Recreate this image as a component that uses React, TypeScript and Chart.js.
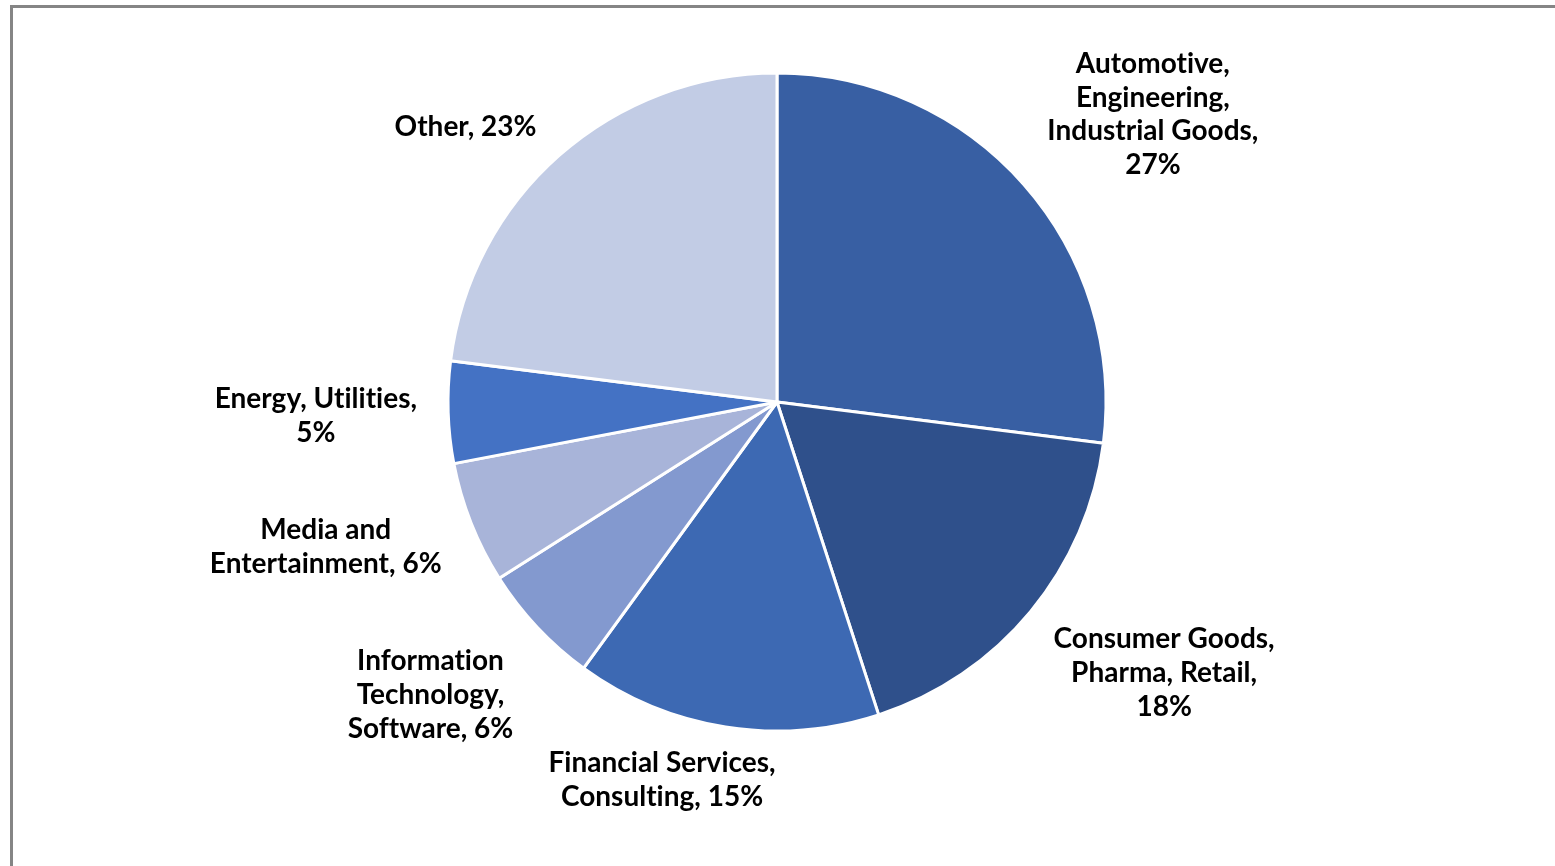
import React, { useEffect, useRef } from "react";
import { Chart, registerables } from "chart.js";

Chart.register(...registerables);

const categories: string[][] = [
  ["Automotive,", "Engineering,", "Industrial Goods,", "27%"],
  ["Consumer Goods,", "Pharma, Retail,", "18%"],
  ["Financial Services,", "Consulting, 15%"],
  ["Information", "Technology,", "Software, 6%"],
  ["Media and", "Entertainment, 6%"],
  ["Energy, Utilities,", "5%"],
  ["Other, 23%"],
];
const shares: number[] = [27, 18, 15, 6, 6, 5, 23];
const sliceColors: string[] = ["#385FA3", "#2F508B", "#3D69B3", "#8399CF", "#A8B4D9", "#4472C4", "#C2CCE5"];
// label placement: distance factor (x radius) and angle delta (deg) from slice middle
const labelDist: number[] = [1.442, 1.433, 1.195, 1.375, 1.439, 1.402, 1.268];
const labelDelta: number[] = [3.8, -4.8, 8, 3.2, 4, 0.3, -6.9];

const labelPlugin = {
  id: "sliceLabels",
  afterDatasetsDraw(chart: any) {
    const ctx = chart.ctx;
    const meta = chart.getDatasetMeta(0);
    ctx.save();
    ctx.font = "bold 28px Lato";
    try {
      (ctx as any).letterSpacing = "0.01px";
    } catch (e) {}
    ctx.fillStyle = "#000";
    ctx.textAlign = "center";
    ctx.textBaseline = "middle";
    meta.data.forEach((arc: any, i: number) => {
      const { x, y, startAngle, endAngle, outerRadius } = arc.getProps(["x", "y", "startAngle", "endAngle", "outerRadius"], true);
      const mid = (startAngle + endAngle) / 2 + (labelDelta[i] * Math.PI) / 180;
      const d = outerRadius * labelDist[i];
      const cx = x + Math.cos(mid) * d;
      const cy = y + Math.sin(mid) * d + 2;
      const lines = categories[i];
      const lh = 33.7;
      lines.forEach((ln, k) => {
        ctx.fillText(ln, cx, cy + (k - (lines.length - 1) / 2) * lh);
      });
    });
    ctx.restore();
  },
};

export default function App() {
  const ref = useRef<HTMLCanvasElement>(null);
  useEffect(() => {
    if (!ref.current) return;
    const chart = new Chart(ref.current, {
      type: "pie",
      data: {
        labels: categories.map((c) => c.join(" ")),
        datasets: [
          {
            data: shares,
            backgroundColor: sliceColors,
            borderColor: "#ffffff",
            borderWidth: 3,
          },
        ],
      },
      options: {
        animation: false,
        responsive: false,
        radius: 329,
        layout: { padding: { top: 0, bottom: 62, left: 0, right: 1 } },
        plugins: { legend: { display: false }, tooltip: { enabled: false } },
      },
      plugins: [labelPlugin],
    });
    return () => chart.destroy();
  }, []);
  return (
    <div style={{ position: "fixed", left: 0, top: 0, width: 1555, height: 866, overflow: "hidden", background: "#fff" }}>
      <div
        style={{
          position: "absolute",
          left: 10,
          top: 5,
          width: 2000,
          height: 2000,
          borderLeft: "3px solid #858585",
          borderTop: "3px solid #858585",
          boxSizing: "border-box",
        }}
      />
      <canvas ref={ref} width={1555} height={866} style={{ position: "absolute", left: 0, top: 0 }} />
    </div>
  );
}
